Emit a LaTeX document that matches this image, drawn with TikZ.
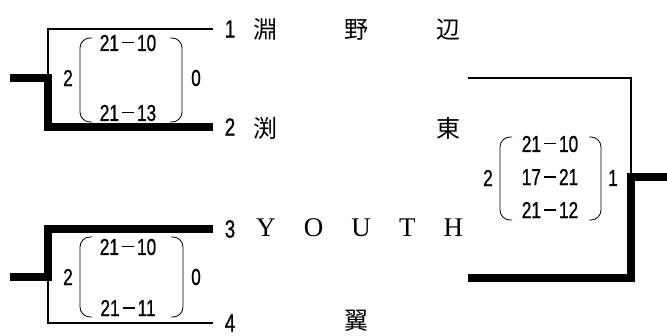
\documentclass[tikz,border=0pt]{standalone}
\usepackage{fontspec}
\newfontfamily\numfont[FakeStretch=0.75, FakeBold=0.8]{Liberation Sans}
\newfontfamily\jpfont{Noto Sans CJK JP}
\newfontfamily\romfont{Liberation Serif}
\newcommand\pts[2]{#1\hspace{3pt}\rule[7.5pt]{12pt}{1.6pt}\hspace{3pt}#2}

\begin{document}
\begin{tikzpicture}[%
      x=1pt, y=-1pt,
      every node/.style={inner sep=0pt, anchor=center},
      seed/.style={font={\numfont\fontsize{25}{25}\selectfont}, minimum width=34pt},
      team/.style={anchor=west, text width=207pt, align=left,
                   font={\jpfont\fontsize{24}{24}\selectfont}},
      youth/.style={team, font={\romfont\fontsize{27}{27}\selectfont}},
      game/.style={font={\numfont\fontsize{23}{23}\selectfont}},
      thinline/.style={line width=2.5pt},
      thickline/.style={line width=8pt},
      paren/.style={line width=0.8pt, rounded corners=10pt}
    ]
  \useasboundingbox (0,0) rectangle (667,336);

  % seeds and teams
  \node [seed] (p1) at (230,29)  {1};
  \node [seed] (p2) at (230,127) {2};
  \node [seed] (p3) at (230,229) {3};
  \node [seed] (p4) at (230,323) {4};
  \node [team]  (n1) at (253,30)  {淵\hfill 野\hfill 辺};
  \node [team]  (n2) at (253,128) {渕\hfill 東};
  \node [youth] (n3) at (256,228) {Y\hfill O\hfill U\hfill T\hfill H};
  \node [team, align=center] (n4) at (253,321) {翼};

  % first round
  \coordinate (m1) at (48,78);
  \coordinate (s1) at (10,78);
  \coordinate (m2) at (48,277);
  \coordinate (s2) at (10,277);
  \draw [thinline]  (p1.west) -| (m1);
  \draw [thickline] (p2.west) -| (m1) -- (s1);
  \draw [thickline] (p3.west) -| (m2) -- (s2);
  \draw [thinline]  (p4.west) -| (m2);

  % final
  \coordinate (r1) at (468,78);
  \coordinate (r2) at (468,278);
  \coordinate (m3) at (631,177);
  \coordinate (s3) at (667,177);
  \draw [thinline]  (r1) -| (m3);
  \draw [thickline] (r2) -| (m3) -- (s3);

  % scores
  \node [game] (w1)  at (68,78)   {2};
  \node [game] (g1a) at (128,43)  {\pts{21}{10}};
  \node [game] (g1b) at (128,113) {\pts{21}{13}};
  \node [game] (l1)  at (196,78)  {0};
  \node [game] (w2)  at (68,277)  {2};
  \node [game] (g2a) at (128,247) {\pts{21}{10}};
  \node [game] (g2b) at (128,308) {\pts{21}{11}};
  \node [game] (l2)  at (196,277) {0};
  \node [game] (w3)  at (488,178) {2};
  \node [game] (g3a) at (550,144) {\pts{21}{10}};
  \node [game] (g3b) at (550,177) {\pts{17}{21}};
  \node [game] (g3c) at (550,210) {\pts{21}{12}};
  \node [game] (l3)  at (613,178) {1};

  \foreach \xa/\xb/\ya/\yb in {80/182/38/122, 80/183/237/317, 500/601/137/220}
  {
    \draw [paren] (\xa+12,\ya) -- (\xa,\ya) -- (\xa,\yb) -- (\xa+12,\yb);
    \draw [paren] (\xb-12,\ya) -- (\xb,\ya) -- (\xb,\yb) -- (\xb-12,\yb);
  }
\end{tikzpicture}
\end{document}
